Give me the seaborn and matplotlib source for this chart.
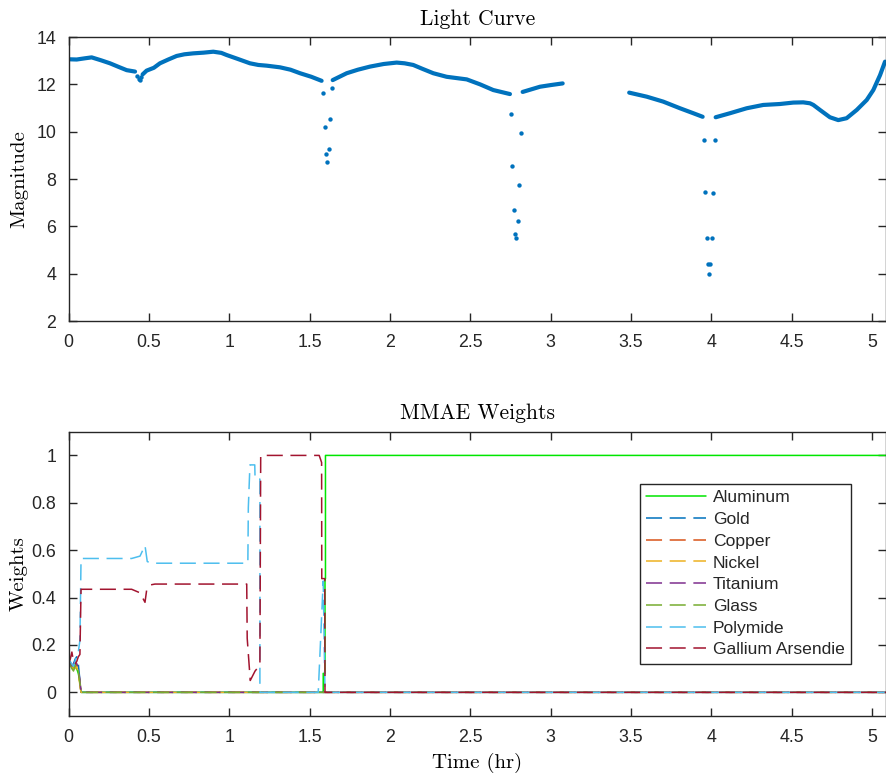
import matplotlib
matplotlib.use("Agg")
import matplotlib.pyplot as plt
import numpy as np
import pandas as pd
import seaborn as sns
from matplotlib import font_manager

# ---------------- Light curve data ----------------
lc_seg1_time = [0.0, 0.05, 0.10, 0.143, 0.200, 0.257, 0.310, 0.361, 0.413]
lc_seg1_mag = [13.06, 13.05, 13.10, 13.14, 13.02, 12.89, 12.74, 12.60, 12.54]
lc_seg2_time = [0.460, 0.485, 0.530, 0.568, 0.620, 0.672, 0.720, 0.775, 0.840, 0.900, 0.950, 0.983, 1.050, 1.128, 1.180, 1.232, 1.315, 1.380, 1.440, 1.510, 1.574]
lc_seg2_mag = [12.42, 12.58, 12.70, 12.89, 13.05, 13.20, 13.27, 13.31, 13.34, 13.38, 13.33, 13.24, 13.08, 12.89, 12.82, 12.79, 12.72, 12.62, 12.47, 12.32, 12.15]
lc_seg3_time = [1.643, 1.730, 1.800, 1.875, 1.960, 2.041, 2.090, 2.144, 2.200, 2.269, 2.352, 2.477, 2.560, 2.642, 2.746]
lc_seg3_mag = [12.18, 12.47, 12.62, 12.75, 12.86, 12.92, 12.89, 12.82, 12.66, 12.47, 12.32, 12.21, 12.00, 11.76, 11.59]
lc_seg4_time = [2.825, 2.933, 3.000, 3.074]
lc_seg4_mag = [11.68, 11.90, 11.97, 12.04]
lc_seg5_time = [3.488, 3.597, 3.700, 3.804, 3.887, 3.945]
lc_seg5_mag = [11.65, 11.48, 11.27, 10.99, 10.78, 10.63]
lc_seg6_time = [4.026, 4.115, 4.219, 4.322, 4.426, 4.509, 4.571, 4.613, 4.634, 4.675, 4.737, 4.789, 4.841, 4.904, 4.966, 5.007, 5.049, 5.080]
lc_seg6_mag = [10.61, 10.78, 10.99, 11.13, 11.17, 11.23, 11.24, 11.20, 11.13, 10.92, 10.61, 10.49, 10.57, 10.92, 11.34, 11.76, 12.39, 12.96]

dip_time = [0.427, 0.437, 0.444, 0.452,
            1.584, 1.637, 1.624, 1.593, 1.618, 1.601, 1.609,
            2.752, 2.813, 2.760, 2.802, 2.769, 2.794, 2.777, 2.785,
            3.953, 4.020, 3.962, 4.011, 3.970, 4.005, 3.976, 3.993, 3.986]
dip_mag = [12.35, 12.22, 12.18, 12.30,
           11.62, 11.85, 10.55, 10.21, 9.28, 9.07, 8.71,
           10.75, 9.96, 8.54, 7.76, 6.70, 6.23, 5.69, 5.52,
           9.66, 9.65, 7.44, 7.41, 5.51, 5.51, 4.40, 4.41, 3.99]

# ---------------- MMAE weights data ----------------
materials = ["Aluminum", "Gold", "Copper", "Nickel", "Titanium", "Glass", "Polymide", "Gallium Arsendie"]
colors = ["#00e600", "#0072BD", "#D95319", "#EDB120", "#7E2F8E", "#77AC30", "#4DBEEE", "#A2142F"]

early_t = [0.0, 0.01, 0.02, 0.03, 0.04, 0.05, 0.06, 0.07]

w_aluminum_t = early_t + [0.077, 1.584, 1.584, 1.595, 1.595, 1.598, 1.598, 5.1]
w_aluminum = [0.125, 0.12, 0.11, 0.10, 0.12, 0.10, 0.08, 0.04, 0.0, 0.0, 0.08, 0.08, 0.48, 0.48, 1.0, 1.0]
w_gold_t = early_t + [0.077, 5.1]
w_gold = [0.125, 0.12, 0.11, 0.12, 0.14, 0.15, 0.12, 0.05, 0.0, 0.0]
w_copper_t = early_t + [0.077, 5.1]
w_copper = [0.125, 0.115, 0.105, 0.10, 0.11, 0.12, 0.10, 0.04, 0.0, 0.0]
w_nickel_t = early_t + [0.077, 5.1]
w_nickel = [0.125, 0.12, 0.11, 0.10, 0.10, 0.11, 0.08, 0.03, 0.0, 0.0]
w_titanium_t = early_t + [0.077, 5.1]
w_titanium = [0.125, 0.12, 0.11, 0.12, 0.13, 0.12, 0.10, 0.05, 0.0, 0.0]
w_glass_t = early_t + [0.077, 5.1]
w_glass = [0.125, 0.115, 0.10, 0.09, 0.11, 0.12, 0.09, 0.04, 0.0, 0.0]
w_polymide_t = early_t + [0.077, 0.392, 0.444, 0.475, 0.489, 0.516, 1.115, 1.118, 1.128, 1.158, 1.160, 1.190, 1.190, 1.553, 1.584, 1.595, 5.1]
w_polymide = [0.125, 0.13, 0.12, 0.11, 0.13, 0.16, 0.17, 0.22, 0.565, 0.565, 0.575, 0.62, 0.552, 0.545, 0.545, 0.78, 0.96, 0.96, 0.90, 0.90, 0.0, 0.0, 0.47, 0.0, 0.0]
w_gaas_t = early_t + [0.077, 0.392, 0.444, 0.475, 0.485, 0.506, 0.537, 1.108, 1.111, 1.130, 1.160, 1.190, 1.195, 1.559, 1.574, 1.575, 1.594, 1.595, 5.1]
w_gaas = [0.125, 0.14, 0.17, 0.13, 0.12, 0.13, 0.15, 0.16, 0.435, 0.435, 0.42, 0.38, 0.43, 0.453, 0.457, 0.457, 0.228, 0.05, 0.09, 0.115, 1.0, 1.0, 0.97, 0.48, 0.48, 0.0, 0.0]

weight_times = [w_aluminum_t, w_gold_t, w_copper_t, w_nickel_t, w_titanium_t, w_glass_t, w_polymide_t, w_gaas_t]
weight_vals = [w_aluminum, w_gold, w_copper, w_nickel, w_titanium, w_glass, w_polymide, w_gaas]

x_ticks = [0, 0.5, 1, 1.5, 2, 2.5, 3, 3.5, 4, 4.5, 5]
x_ticklabels = ["0", "0.5", "1", "1.5", "2", "2.5", "3", "3.5", "4", "4.5", "5"]
lc_yticks = [2, 4, 6, 8, 10, 12, 14]
w_yticks = [0, 0.2, 0.4, 0.6, 0.8, 1]
w_yticklabels = ["0", "0.2", "0.4", "0.6", "0.8", "1"]

# ---------------- Styling ----------------
sns.set_style("white")
names = {f.name for f in font_manager.fontManager.ttflist}
tick_family = "Liberation Sans Narrow" if "Liberation Sans Narrow" in names else "Liberation Sans"
plt.rcParams["font.family"] = [tick_family, "DejaVu Sans"]
serif = "cmr10"
axis_color = "#262626"

fig = plt.figure(figsize=(8.86, 7.73), dpi=100)
ax1 = fig.add_axes([0.0775, 0.5847, 0.9225, 0.3674])
ax2 = fig.add_axes([0.0775, 0.0737, 0.9225, 0.3678])

xmax = 5.086

# top: light curve
segs = []
for i, (t, m) in enumerate([(lc_seg1_time, lc_seg1_mag), (lc_seg2_time, lc_seg2_mag),
                            (lc_seg3_time, lc_seg3_mag), (lc_seg4_time, lc_seg4_mag),
                            (lc_seg5_time, lc_seg5_mag), (lc_seg6_time, lc_seg6_mag)]):
    segs.append(pd.DataFrame({"time": t, "mag": m, "seg": i}))
lc_df = pd.concat(segs, ignore_index=True)
sns.lineplot(data=lc_df, x="time", y="mag", units="seg", estimator=None, sort=False,
             color="#0072BD", lw=3.0, solid_capstyle="round", solid_joinstyle="round", ax=ax1)
dip_df = pd.DataFrame({"time": dip_time, "mag": dip_mag})
sns.scatterplot(data=dip_df, x="time", y="mag", color="#0072BD", s=10, linewidth=0, ax=ax1)

ax1.set_xlim(0, xmax)
ax1.set_ylim(2, 14)
ax1.set_yticks(lc_yticks)
ax1.set_yticklabels([str(v) for v in lc_yticks])
ax1.set_title("Light Curve", family=serif, fontsize=15.5, pad=9, color="black")
ax1.set_ylabel("Magnitude", family=serif, fontsize=15, labelpad=6, color="black")
ax1.set_xlabel("")

# bottom: weights
rows = []
for name, t, w in zip(materials, weight_times, weight_vals):
    rows.append(pd.DataFrame({"time": t, "weight": w, "material": name}))
w_df = pd.concat(rows, ignore_index=True)
palette = dict(zip(materials, colors))
dash = (10.5, 5.0)
dashes = {m: ("" if m == "Aluminum" else dash) for m in materials}
sns.lineplot(data=w_df, x="time", y="weight", hue="material", style="material",
             hue_order=materials, style_order=materials, palette=palette, dashes=dashes,
             estimator=None, sort=False, lw=1.1, ax=ax2)
ax2.set_xlim(0, xmax)
ax2.set_ylim(-0.1, 1.1)
ax2.set_yticks(w_yticks)
ax2.set_yticklabels(w_yticklabels)
ax2.set_title("MMAE Weights", family=serif, fontsize=15.5, pad=9, color="black")
ax2.set_ylabel("Weights", family=serif, fontsize=15, labelpad=3, color="black")
ax2.set_xlabel("Time (hr)", family=serif, fontsize=15, labelpad=5, color="black")

old = ax2.get_legend()
handles = list(old.legend_handles)
labels = [t.get_text() for t in old.get_texts()]
old.remove()
leg = ax2.legend(handles, labels, loc="upper right", bbox_to_anchor=(0.957, 0.816),
                 borderaxespad=0, frameon=True, fancybox=False, framealpha=1,
                 edgecolor=axis_color, handlelength=3.4, handletextpad=0.4,
                 labelspacing=0.37, borderpad=0.35,
                 prop={"family": "Liberation Sans", "size": 12.6})
leg.get_frame().set_linewidth(1.0)
for h, c, m in zip(leg.legend_handles, colors, materials):
    h.set_color(c)
    h.set_linewidth(1.1)
    if m != "Aluminum":
        h.set_dashes(dash)

for ax in (ax1, ax2):
    ax.set_xticks(x_ticks)
    ax.set_xticklabels(x_ticklabels)
    ax.tick_params(direction="in", length=6, width=1.0, colors=axis_color,
                   labelcolor=axis_color, labelsize=12.8, top=True, right=True,
                   bottom=True, left=True)
    ax.tick_params(axis="x", pad=9)
    ax.tick_params(axis="y", pad=9)
    for s in ax.spines.values():
        s.set_visible(True)
        s.set_color(axis_color)
        s.set_linewidth(1.0)
    ax.set_facecolor("white")

fig.savefig("out.png", dpi=100)
